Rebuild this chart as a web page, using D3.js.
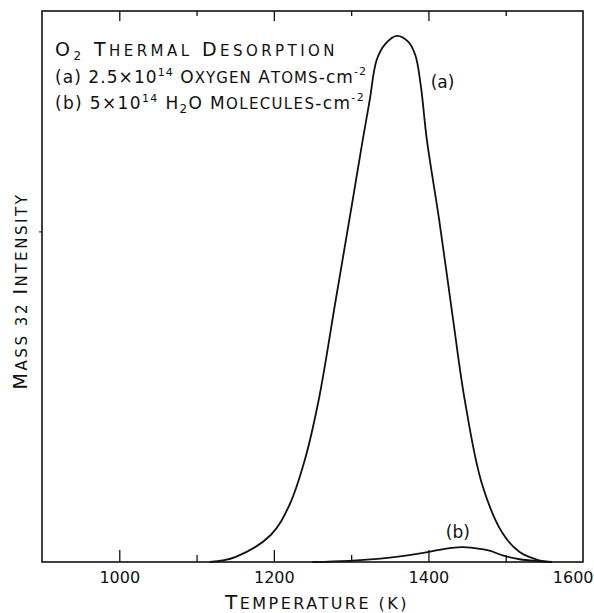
<!DOCTYPE html>
<html>
<head>
<meta charset="utf-8">
<script src="https://cdn.jsdelivr.net/npm/d3@7"></script>
<style>
    body { margin: 0; background: #fff; }
    text { font-family: "DejaVu Sans", "Liberation Sans", sans-serif; fill: #111; }
</style>
</head>
<body>
<svg id="drawing_region"></svg>
<script>
// curve (a): 2.5e14 oxygen atoms / cm2
const temps_a = [1117, 1150, 1196, 1220, 1240, 1258, 1280, 1302, 1315, 1324, 1333, 1344, 1359,
                 1374, 1383, 1390, 1398, 1414, 1432, 1447, 1469, 1496, 1518, 1541, 1560];
const intensity_a = [0, 0.9, 4.9, 10.3, 18.5, 29.4, 47.5, 65.7, 76.6, 83.8, 91.1, 94, 95.5,
                     94.4, 92, 86.6, 76.6, 62, 43.9, 29.4, 14.3, 5.2, 1.8, 0.4, 0];

// curve (b): 5e14 H2O molecules / cm2
const temps_b = [1250, 1297, 1350, 1399, 1421, 1443, 1460, 1480, 1496, 1518, 1541, 1557];
const intensity_b = [0, 0.2, 0.8, 1.8, 2.4, 2.7, 2.5, 2.0, 1.2, 0.5, 0.15, 0];

const major_ticks = [1000, 1200, 1400];
const minor_ticks = [1100, 1300, 1500];
const tick_labels = [1000, 1200, 1400, 1600];

var config = {
    parent: '#drawing_region',
    width: 594,
    height: 613,
    margin: {top:11, right:11, bottom:51, left:42}
};

const svg = d3.select(config.parent)
    .attr('width', config.width)
    .attr('height', config.height);

const inner_width = config.width - config.margin.left - config.margin.right;
const inner_height = config.height - config.margin.top - config.margin.bottom;

const chart = svg.append('g')
    .attr('transform', `translate(${config.margin.left}, ${config.margin.top})`);

const xscale = d3.scaleLinear()
    .domain([900, 1600])
    .range([0, inner_width]);

const yscale = d3.scaleLinear()
    .domain([0, 100])
    .range([inner_height, 0]);

// frame
chart.append('rect')
    .attr('width', inner_width)
    .attr('height', inner_height)
    .attr('fill', 'none')
    .attr('stroke', '#111')
    .attr('stroke-width', 1.6);

// inward ticks, bottom and top
function tickGroup(axis, y, values, size) {
    const g = chart.append('g')
        .attr('transform', `translate(0, ${y})`)
        .call(axis(xscale).tickValues(values).tickSize(size).tickFormat(''));
    g.select('.domain').remove();
    g.selectAll('line').attr('stroke', '#111').attr('stroke-width', 1.3);
}
tickGroup(d3.axisTop, inner_height, major_ticks, 12);
tickGroup(d3.axisTop, inner_height, minor_ticks, 7);
tickGroup(d3.axisBottom, 0, major_ticks, 10);
tickGroup(d3.axisBottom, 0, minor_ticks, 5);

// small tick on the left
const yaxis_group = chart.append('g')
    .call(d3.axisLeft(yscale).tickValues([60]).tickSize(3).tickFormat(''));
yaxis_group.select('.domain').remove();
yaxis_group.selectAll('line').attr('stroke', '#111');

// tick labels
const xlabels = chart.append('g')
    .attr('transform', `translate(0, ${inner_height})`)
    .call(d3.axisBottom(xscale).tickValues(tick_labels).tickSize(0).tickPadding(10).tickFormat(d3.format('d')));
xlabels.select('.domain').remove();
xlabels.selectAll('text')
    .attr('font-size', 16)
    .attr('font-family', '"DejaVu Sans", sans-serif')
    .attr('fill', '#111');
xlabels.selectAll('.tick').filter(d => d === 1600).select('text')
    .attr('text-anchor', 'end').attr('dx', 10);

// curves
const line = d3.line()
    .x(d => xscale(d[0]))
    .y(d => yscale(d[1]))
    .curve(d3.curveCatmullRom.alpha(0.5));

chart.append('path')
    .datum(d3.zip(temps_a, intensity_a))
    .attr('d', line)
    .attr('fill', 'none')
    .attr('stroke', '#111')
    .attr('stroke-width', 1.8);

chart.append('path')
    .datum(d3.zip(temps_b, intensity_b))
    .attr('d', line)
    .attr('fill', 'none')
    .attr('stroke', '#111')
    .attr('stroke-width', 1.8);

// lettering helper: list of [text, size, dy]
function lettering(parent, x, y, parts, anchor) {
    const t = parent.append('text')
        .attr('x', x).attr('y', y)
        .attr('text-anchor', anchor || 'start');
    parts.forEach(p => {
        const s = t.append('tspan')
            .attr('font-size', p[1])
            .text(p[0]);
        if (p[2]) s.attr('dy', p[2]);
    });
    return t;
}

// spread the letters so the text covers the given width
function fitWidth(t, width) {
    const n = t.text().length;
    const natural = t.node().getComputedTextLength();
    t.attr('letter-spacing', Math.max(0, (width - natural) / n));
}

const BIG = 19, SMALL = 15, NUM = 17, SUP = 11;

fitWidth(lettering(svg, 55, 56, [
    ['O', BIG], ['2', 12, 4], [' T', BIG, -4], ['HERMAL', SMALL], [' D', BIG], ['ESORPTION', SMALL]
]), 283);
fitWidth(lettering(svg, 55, 83, [
    ['(a) 2.5\u00d710', NUM], ['14', SUP, -7], [' O', 17, 7], ['XYGEN', SMALL], [' A', 17], ['TOMS', SMALL],
    ['-cm', NUM], ['-2', SUP, -8]
]), 312);
fitWidth(lettering(svg, 55, 109, [
    ['(b) 5\u00d710', NUM], ['14', SUP, -7], [' H', 17, 7], ['2', 12, 4], ['O', 17, -4], [' M', 17], ['OLECULES', SMALL],
    ['-cm', NUM], ['-2', SUP, -8]
]), 310);

// curve labels
lettering(chart, xscale(1403), 77, [['(a)', 17]]);
lettering(chart, xscale(1438), 527, [['(b)', 17]], 'middle');

// axis titles
fitWidth(lettering(svg, 317, 609, [['T', 20], ['EMPERATURE (K)', 16]], 'middle'), 184);
const ytitle = lettering(svg, 0, 0, [['M', 19], ['ASS 32 ', 15], ['I', 19], ['NTENSITY', 15]], 'middle')
    .attr('transform', 'translate(27, 291) rotate(-90)');
fitWidth(ytitle, 197);
</script>
</body>
</html>
